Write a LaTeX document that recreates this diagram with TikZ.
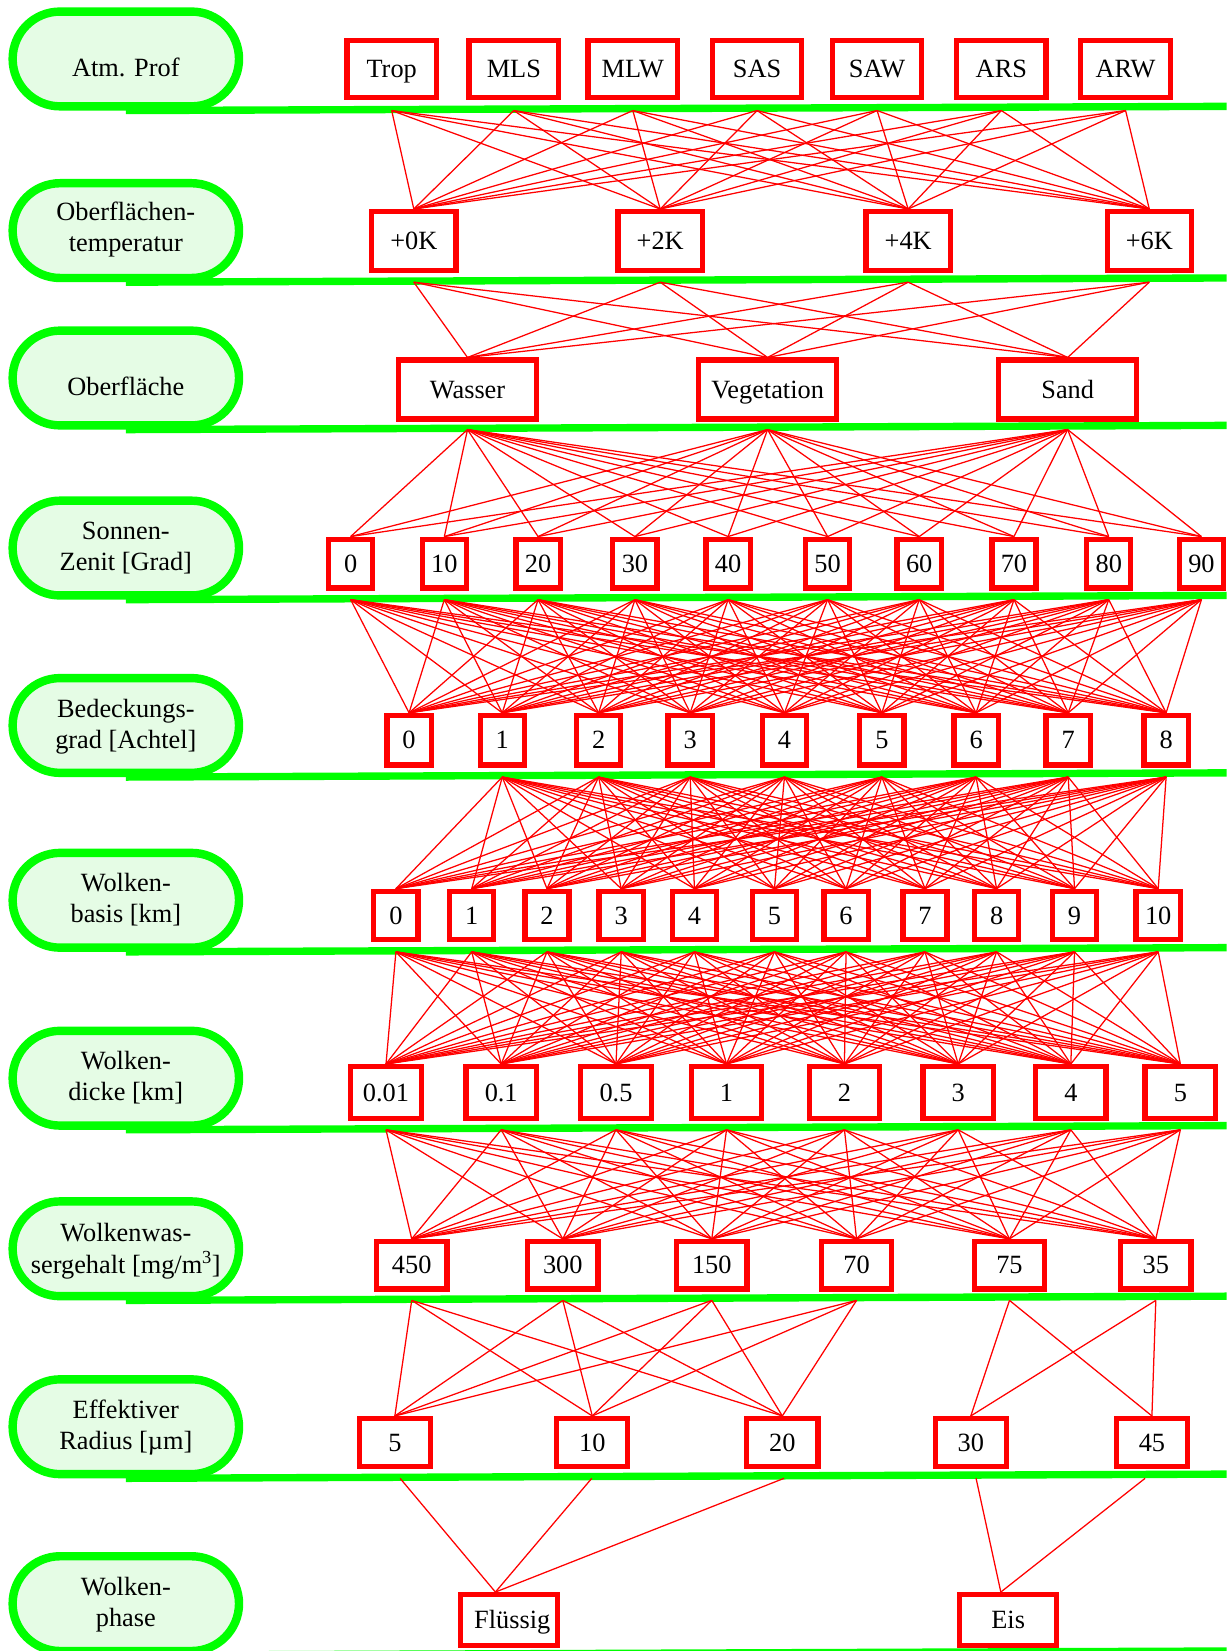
\documentclass[tikz,border=0pt]{standalone}
\usepackage{fontspec}
\setmainfont{Liberation Serif}
\definecolor{pillfill}{RGB}{229,252,229}
\definecolor{gr}{RGB}{0,255,0}
\definecolor{rd}{RGB}{255,0,0}
\begin{document}
\begin{tikzpicture}[x=1pt,y=-1pt,
  box/.style={draw=rd, line width=5pt, fill=white, inner sep=0pt, text height=16.5pt, text depth=0pt, font=\fontsize{25}{30}\selectfont},
  edge/.style={draw=rd, line width=1.2pt},
  pill/.style={draw=gr, line width=8pt, fill=pillfill, rounded corners=45pt, minimum width=215pt, minimum height=90pt, inner sep=0pt},
  gline/.style={draw=gr, line width=7pt},
  lab/.style={anchor=base, inner sep=0pt, font=\fontsize{25}{30}\selectfont}]
\useasboundingbox (0,0) rectangle (1165,1568);

% pills and green rules
\foreach \G/\n in {101/1,264/2,404/3,565.5/4,734/5,900/6,1069/7,1231/8,1400/9,1568/10}{
  \node[pill] (p\n) at (119.5,\G-45) {};
  \coordinate (ge\n) at (1165,\G);
  \draw[gline] (p\n.south) -- (ge\n);
}

% pill labels
\node[lab] (l1) at (119.5,72.5) {Atm. Prof};
\node[lab] (l2a) at (119.5,209) {Oberflächen-};
\node[lab] (l2b) at (119.5,239) {temperatur};
\node[lab] (l3) at (119.5,375.5) {Oberfläche};
\node[lab] (l4a) at (119.5,512.5) {Sonnen-};
\node[lab] (l4b) at (119.5,542) {Zenit [Grad]};
\node[lab] (l5a) at (119.5,681) {Bedeckungs-};
\node[lab] (l5b) at (119.5,710.5) {grad [Achtel]};
\node[lab] (l6a) at (119.5,847) {Wolken-};
\node[lab] (l6b) at (119.5,876.5) {basis [km]};
\node[lab] (l7a) at (119.5,1016) {Wolken-};
\node[lab] (l7b) at (119.5,1045.5) {dicke [km]};
\node[lab] (l8a) at (119.5,1179.5) {Wolkenwas-};
\node[lab] (l8b) at (119.5,1209) {sergehalt [mg/m\textsuperscript{3}]};
\node[lab] (l9a) at (119.5,1347) {Effektiver};
\node[lab] (l9b) at (119.5,1376.5) {Radius [µm]};
\node[lab] (l10a) at (119.5,1515) {Wolken-};
\node[lab] (l10b) at (119.5,1544.5) {phase};

% row 1
\foreach \x/\t [count=\i] in {372/Trop,488/MLS,601/MLW,719/SAS,833/SAW,951/ARS,1069/ARW}{
  \node[box,minimum width=85pt,minimum height=54pt] (a\i) at (\x,65.5) {\t};
  \coordinate (ao\i) at (\x,105);
}
% row 2
\foreach \x/\t [count=\i] in {393/+0K,627/+2K,862.5/+4K,1091.5/+6K}{
  \node[box,minimum width=80pt,minimum height=56pt] (b\i) at (\x,229) {\t};
  \coordinate (bo\i) at (\x,268);
}
% row 3
\foreach \x/\t [count=\i] in {444/Wasser,729/Vegetation,1014/Sand}{
  \node[box,minimum width=131pt,minimum height=56pt] (c\i) at (\x,370) {\t};
  \coordinate (co\i) at (\x,408);
}
% row 4
\foreach \x/\t [count=\i] in {333/0,422/10,511/20,603/30,691.5/40,786/50,873/60,963/70,1053/80,1141/90}{
  \node[box,minimum width=42pt,minimum height=46.4pt] (d\i) at (\x,535.3) {\t};
  \coordinate (do\i) at (\x,569.5);
}
% row 5
\foreach \x/\t [count=\i] in {388.5/0,477/1,568.5/2,655.5/3,745/4,837.5/5,927/6,1014.5/7,1107.5/8}{
  \node[box,minimum width=42pt,minimum height=47pt] (e\i) at (\x,703) {\t};
  \coordinate (eo\i) at (\x,738);
}
% row 6
\foreach \x/\t [count=\i] in {376/0,448/1,519.5/2,590/3,659.5/4,735.5/5,803.5/6,878.5/7,946.5/8,1020.5/9,1100/10}{
  \node[box,minimum width=42pt,minimum height=46pt] (f\i) at (\x,869.5) {\t};
  \coordinate (fo\i) at (\x,904);
}
% row 7
\foreach \x/\t [count=\i] in {366.6/0.01,476/0.1,585/0.5,690/1,802/2,910/3,1017/4,1121/5}{
  \node[box,minimum width=67pt,minimum height=49pt] (g\i) at (\x,1037.5) {\t};
  \coordinate (go\i) at (\x,1073);
}
% row 8
\foreach \x/\t [count=\i] in {391/450,534.5/300,676/150,813.5/70,958.7/75,1097.7/35}{
  \node[box,minimum width=67pt,minimum height=45pt] (h\i) at (\x,1201.6) {\t};
  \coordinate (ho\i) at (\x,1235);
}
% row 9
\foreach \x/\t/\o [count=\i] in {375/5/380,562.5/10/562,743/20/744.6,922/30/927,1094/45/1087.5}{
  \node[box,minimum width=67.5pt,minimum height=45.5pt] (k\i) at (\x,1370) {\t};
  \coordinate (ko\i) at (\o,1404);
}
% row 10
\node[box,minimum width=92pt,minimum height=48pt] (m1) at (483.5,1538.5) {\hspace{6pt}Flüssig};
\node[box,minimum width=92pt,minimum height=48pt] (m2) at (957.5,1538.5) {Eis};

% connectors
\foreach \i in {1,...,7}{\foreach \j in {1,...,4}{\draw[edge] (ao\i) -- (b\j.north);}}
\foreach \i in {1,...,4}{\foreach \j in {1,...,3}{\draw[edge] (bo\i) -- (c\j.north);}}
\foreach \i in {1,...,3}{\foreach \j in {1,...,10}{\draw[edge] (co\i) -- (d\j.north);}}
\foreach \i in {1,...,10}{\foreach \j in {1,...,9}{\draw[edge] (do\i) -- (e\j.north);}}
\foreach \i in {2,...,9}{\foreach \j in {1,...,11}{\draw[edge] (eo\i) -- (f\j.north);}}
\foreach \i in {1,...,11}{\foreach \j in {1,...,8}{\draw[edge] (fo\i) -- (g\j.north);}}
\foreach \i in {1,...,8}{\foreach \j in {1,...,6}{\draw[edge] (go\i) -- (h\j.north);}}
\foreach \i in {1,...,4}{\foreach \j in {1,...,3}{\draw[edge] (ho\i) -- (k\j.north);}}
\foreach \i in {5,6}{\foreach \j in {4,5}{\draw[edge] (ho\i) -- (k\j.north);}}
\foreach \i in {1,2,3}{\draw[edge] (ko\i) -- ([xshift=-13pt]m1.north);}
\foreach \i in {4,5}{\draw[edge] (ko\i) -- ([xshift=-7pt]m2.north);}
\end{tikzpicture}
\end{document}
